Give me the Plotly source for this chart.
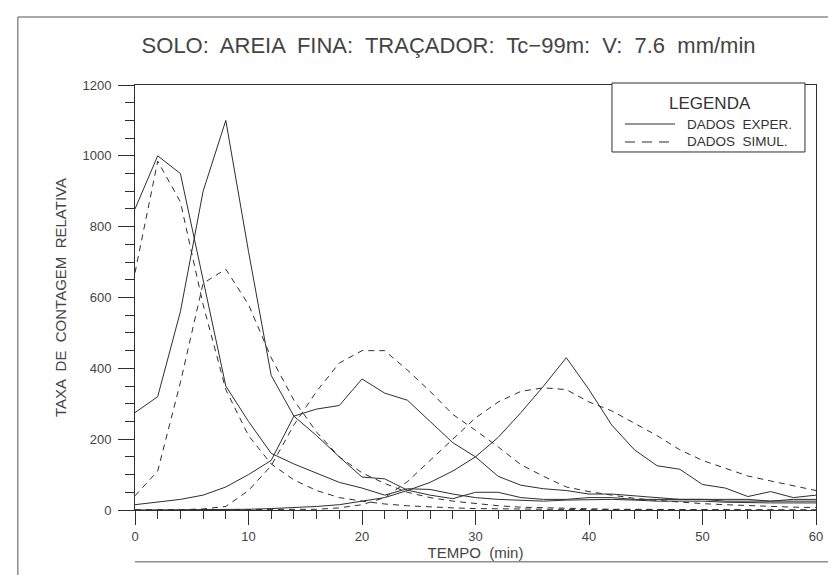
import plotly.graph_objects as go

# time axis (min)
tempo = [0, 2, 4, 6, 8, 10, 12, 14, 16, 18, 20, 22, 24, 26, 28, 30,
         32, 34, 36, 38, 40, 42, 44, 46, 48, 50, 52, 54, 56, 58, 60]

# experimental data (solid)
exp_a = [850, 1000, 950, 650, 350, 250, 160, 130, 105, 78, 62, 42, 60, 58, 45, 35,
         30, 28, 25, 28, 30, 30, 28, 25, 25, 25, 22, 20, 20, 20, 20]
exp_b = [275, 320, 560, 900, 1100, 730, 380, 265, 210, 150, 93, 88, 56, 42, 32, 50,
         50, 35, 30, 30, 35, 35, 30, 30, 30, 30, 25, 25, 25, 30, 30]
exp_c = [15, 22, 30, 42, 65, 100, 140, 265, 285, 295, 370, 330, 310, 250, 190, 150,
         95, 70, 60, 55, 45, 45, 40, 35, 30, 30, 30, 30, 25, 25, 25]
exp_d = [0, 0, 0, 0, 0, 2, 4, 6, 10, 15, 25, 35, 55, 78, 110, 150,
         205, 275, 350, 430, 340, 240, 170, 125, 115, 72, 62, 38, 52, 35, 42]

# simulated data (dashed)
sim_a = [670, 985, 870, 580, 340, 210, 130, 85, 55, 35, 25, 17, 12, 8, 6, 4,
         3, 2, 2, 1, 1, 1, 1, 0, 0, 0, 0, 0, 0, 0, 0]
sim_b = [40, 110, 360, 640, 680, 580, 430, 310, 220, 150, 105, 75, 50, 35, 25, 18,
         12, 8, 6, 4, 3, 2, 2, 1, 1, 1, 1, 0, 0, 0, 0]
sim_c = [0, 0, 1, 3, 10, 55, 125, 240, 335, 415, 450, 450, 395, 335, 270, 225,
         178, 128, 95, 65, 52, 42, 33, 27, 22, 18, 15, 12, 10, 8, 7]
sim_d = [0, 0, 0, 0, 0, 0, 0, 0, 2, 6, 15, 35, 80, 140, 200, 260,
         305, 335, 345, 340, 305, 280, 245, 210, 170, 140, 118, 96, 82, 68, 55]

x_ticks = [0, 10, 20, 30, 40, 50, 60]
y_ticks = [0, 200, 400, 600, 800, 1000, 1200]

title_text = "SOLO:  AREIA  FINA:  TRAÇADOR:  Tc−99m:  V:  7.6  mm/min"
legend_title = "LEGENDA"
name_exp = "DADOS\u00a0 EXPER."
name_sim = "DADOS\u00a0 SIMUL."

ink = "#2e2e2e"
font_family = "Liberation Sans, Arial, sans-serif"
dash_style = "6px,5px"

fig = go.Figure()
for i, ys in enumerate([exp_a, exp_b, exp_c, exp_d]):
    fig.add_trace(go.Scatter(x=tempo, y=ys, mode="lines", name=name_exp,
                             showlegend=False, line=dict(color=ink, width=1)))
for i, ys in enumerate([sim_a, sim_b, sim_c, sim_d]):
    fig.add_trace(go.Scatter(x=tempo, y=ys, mode="lines", name=name_sim,
                             showlegend=False, line=dict(color=ink, width=1, dash=dash_style)))

axis_common = dict(showgrid=False, zeroline=False, showline=True, linecolor=ink,
                   linewidth=1, mirror=True, ticks="outside", tickcolor=ink,
                   tickfont=dict(family=font_family, size=13, color="#444"))

fig.update_xaxes(range=[0, 60], tickvals=x_ticks, ticklen=14, tickwidth=1,
                 minor=dict(dtick=2, ticklen=8, tickcolor=ink, ticks="outside"),
                 title=dict(text="TEMPO  (min)", standoff=4,
                            font=dict(family=font_family, size=15, color="#444")),
                 **axis_common)
fig.update_yaxes(range=[0, 1200], tickvals=y_ticks, ticklen=16, tickwidth=1,
                 ticklabelstandoff=4,
                 minor=dict(dtick=50, ticklen=9, tickcolor=ink, ticks="outside"),
                 title=dict(text="TAXA  DE  CONTAGEM  RELATIVA", standoff=12,
                            font=dict(family=font_family, size=15, color="#444")),
                 **axis_common)

# outer page frame of the scanned figure
frame = dict(type="line", xref="paper", yref="paper", line=dict(color="#555", width=1))
fig.add_shape(x0=-0.172, x1=-0.172, y0=-0.16, y1=1.16, **frame)
fig.add_shape(x0=-0.172, x1=1.03, y0=1.16, y1=1.16, **frame)
fig.add_shape(x0=0.0, x1=1.03, y0=-0.122, y1=-0.122, **frame)

# legend box (drawn by hand to match the plotter legend)
row1, row2 = 0.9082, 0.8659
fig.add_shape(type="rect", xref="paper", yref="paper", x0=0.7004, x1=0.9838,
              y0=0.8424, y1=1.0047, line=dict(color=ink, width=1), fillcolor="white")
fig.add_shape(type="line", xref="paper", yref="paper", x0=0.7195, x1=0.7930,
              y0=row1, y1=row1, line=dict(color=ink, width=1))
fig.add_shape(type="line", xref="paper", yref="paper", x0=0.7195, x1=0.7930,
              y0=row2, y1=row2, line=dict(color=ink, width=1, dash="10px,7px"))
leg_font = dict(family=font_family, size=13.5, color="#333")
fig.add_annotation(xref="paper", yref="paper", x=0.8443, y=0.9576, text=legend_title,
                   showarrow=False, xanchor="center", yanchor="middle", borderpad=0,
                   font=dict(family=font_family, size=17, color="#333"))
fig.add_annotation(xref="paper", yref="paper", x=0.8091, y=row1, text=name_exp,
                   showarrow=False, xanchor="left", yanchor="middle", borderpad=0,
                   font=leg_font)
fig.add_annotation(xref="paper", yref="paper", x=0.8091, y=row2, text=name_sim,
                   showarrow=False, xanchor="left", yanchor="middle", borderpad=0,
                   font=leg_font)

fig.update_layout(
    width=836, height=575,
    margin=dict(l=127, r=28, t=77, b=73),
    paper_bgcolor="white", plot_bgcolor="white",
    title=dict(text=title_text, x=0.527, xanchor="center", y=0.935, yanchor="middle",
               font=dict(family=font_family, size=22, color="#444")),
    showlegend=False,
)

fig.write_html("out.html")
